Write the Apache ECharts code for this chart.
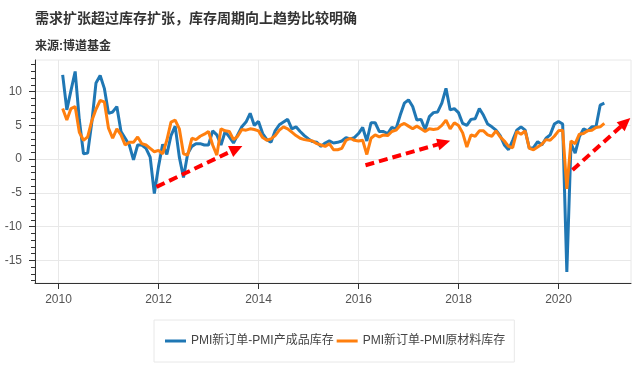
<!DOCTYPE html>
<html><head><meta charset="utf-8">
<script src="https://cdn.jsdelivr.net/npm/echarts@6/dist/echarts.min.js"></script>
<style>html,body{margin:0;padding:0;background:#fff}#c{width:643px;height:366px}</style>
</head><body><div id="c"></div>
<script>
// Monthly data, Jan 2010 - Nov 2020 (month-end)
const startYear = 2010;
const seriesNames = ['PMI新订单-PMI产成品库存', 'PMI新订单-PMI原材料库存'];
const finishedGap = [
 12.5, 7.3, 10.2, 13.0, 5.8, 0.8, 0.9, 5.5, 11.3, 12.4,
 10.5, 6.8, 7.0, 7.8, 4.1, 3.1, 2.1, -0.1, 2.1, 2.1,
 1.6, 0.3, -5.1, -1.1, 2.2, 0.7, 3.5, 4.9, 0.3, -2.7,
 0.8, 1.9, 2.3, 2.3, 2.1, 2.1, 4.2, 3.6, 2.1, 4.1,
 3.3, 2.4, 3.6, 4.8, 5.5, 6.8, 5.0, 5.6, 3.8, 2.9,
 2.5, 4.2, 5.1, 5.5, 5.9, 4.5, 4.8, 4.1, 3.5, 3.0,
 2.6, 2.5, 1.9, 2.4, 2.7, 2.4, 2.5, 2.7, 3.2, 3.0,
 3.2, 3.8, 4.7, 2.7, 5.4, 5.4, 4.1, 4.1, 3.8, 4.7,
 4.5, 6.5, 8.3, 8.8, 7.8, 5.8, 5.9, 4.4, 6.3, 6.9,
 7.0, 8.3, 10.5, 7.3, 7.5, 6.9, 5.3, 5.0, 5.9, 6.0,
 7.5, 6.5, 5.2, 4.8, 4.3, 3.5, 2.1, 1.4, 2.8, 4.3,
 4.8, 4.3, 1.6, 1.7, 2.6, 2.1, 3.1, 3.6, 5.2, 5.6,
 5.2, -16.7, 2.3, 0.9, 3.3, 4.5, 4.2, 4.8, 4.8, 8.0,
 8.3
];
const rawGap = [
 7.5, 5.8, 7.5, 7.8, 4.0, 2.8, 3.3, 5.7, 7.4, 8.7,
 8.5, 4.6, 3.1, 4.5, 3.6, 2.1, 2.5, 2.5, 3.3, 2.3,
 2.1, 1.6, 1.1, 1.3, 0.8, 2.8, 5.5, 5.8, 4.5, 0.8,
 0.6, 3.1, 2.9, 3.4, 3.7, 4.1, 2.1, 0.6, 4.5, 4.2,
 4.1, 2.9, 3.4, 4.4, 4.3, 4.5, 4.4, 4.2, 3.2, 2.8,
 3.0, 3.5, 4.3, 4.8, 4.5, 4.0, 3.5, 3.1, 2.9, 2.8,
 2.7, 2.3, 2.1, 1.9, 2.3, 1.4, 1.4, 1.6, 2.8, 3.1,
 2.8, 2.7, 2.8, 0.7, 3.1, 3.6, 3.3, 3.6, 3.5, 4.1,
 4.3, 5.0, 5.3, 4.9, 4.5, 4.9, 4.5, 4.1, 4.5, 4.4,
 4.5, 5.0, 5.8, 4.5, 5.4, 5.0, 3.9, 1.8, 3.6, 3.4,
 4.2, 4.2, 3.6, 3.4, 4.2, 3.3, 2.7, 1.9, 1.7, 4.1,
 3.7, 4.2, 1.6, 1.4, 1.8, 2.2, 2.9, 2.8, 3.4, 4.2,
 4.3, -4.4, 2.7, 2.3, 3.7, 3.8, 4.2, 4.3, 4.7, 4.8,
 5.3
];
const xTicks = [2010, 2012, 2014, 2016, 2018, 2020];
const yTicks = [-15, -10, -5, 0, 5, 10];
const yMinorTicks = [-18,-17,-16,-15,-14,-13,-12,-11,-10,-9,-8,-7,-6,-5,-4,-3,-2,-1,0,1,2,3,4,5,6,7,8,9,10,11,12,13,14];
// red dashed trend arrows: [start [year, value], end [year, value]]
const arrows = [
 [[2011.96, -4.1], [2013.56, 1.55]],
 [[2016.14, -0.9], [2017.71, 2.45]],
 [[2020.28, -1.6], [2021.34, 5.45]]
];
const titleText = '需求扩张超过库存扩张，库存周期向上趋势比较明确';
const subText = '来源:博道基金';

function toPairs(vals) {
  return vals.map((v, i) => [startYear + (i + 1) / 12, v]);
}

const FONT = '"Liberation Sans", "Noto Sans CJK SC", sans-serif';
const chart = echarts.init(document.getElementById('c'), null, {renderer: 'canvas'});
chart.setOption({
  animation: false,
  backgroundColor: '#fff',
  textStyle: {fontFamily: FONT},
  title: [
    {text: titleText, left: 35, top: 12, padding: 0,
     textStyle: {fontSize: 14, fontWeight: 'bold', color: '#333', fontFamily: FONT}},
    {text: subText, left: 35, top: 41, padding: 0,
     textStyle: {fontSize: 12, fontWeight: 'bold', color: '#333', fontFamily: FONT}}
  ],
  legend: {
    data: seriesNames,
    left: 154, top: 320,
    padding: [15, 9, 15, 11],
    itemGap: 3, itemWidth: 21, itemHeight: 3,
    icon: 'rect',
    borderColor: '#e8e8e8', borderWidth: 1,
    textStyle: {fontSize: 12, color: '#444', fontFamily: FONT}
  },
  grid: {left: 35, right: 12, top: 60, bottom: 83, show: true, borderColor: '#e8e8e8', borderWidth: 1, containLabel: false},
  xAxis: {
    type: 'value', min: 2009.53, max: 2021.45,
    axisLine: {show: true, onZero: false, lineStyle: {color: '#333', width: 1}},
    axisTick: {show: true, customValues: xTicks, length: 6, lineStyle: {color: '#333'}},
    axisLabel: {customValues: xTicks, formatter: v => String(Math.round(v)), margin: 11, fontSize: 12, color: '#555', fontFamily: FONT},
    splitLine: {show: true, lineStyle: {color: '#e8e8e8', width: 1}}
  },
  yAxis: [
    {
      type: 'value', min: -18.35, max: 14.7, position: 'left',
      axisLine: {show: true, onZero: false, lineStyle: {color: '#333', width: 1}},
      axisTick: {show: true, customValues: yTicks, length: 6, lineStyle: {color: '#333'}},
      axisLabel: {customValues: yTicks, margin: 13, fontSize: 12, color: '#555', fontFamily: FONT},
      splitLine: {show: true, lineStyle: {color: '#e8e8e8', width: 1}}
    },
    {
      type: 'value', min: -18.35, max: 14.7, position: 'left', offset: 0,
      axisLine: {show: false},
      axisTick: {show: true, customValues: yMinorTicks, length: 4, lineStyle: {color: '#333'}},
      axisLabel: {show: false},
      splitLine: {show: false}
    }
  ],
  series: [
    {name: seriesNames[0], type: 'line', data: toPairs(finishedGap), showSymbol: false, symbol: 'none',
     lineStyle: {color: '#1f77b4', width: 3}, itemStyle: {color: '#1f77b4'}, silent: true},
    {name: seriesNames[1], type: 'line', data: toPairs(rawGap), showSymbol: false, symbol: 'none',
     lineStyle: {color: '#ff7f0e', width: 3}, itemStyle: {color: '#ff7f0e'}, silent: true},
    {name: 'arrows', type: 'line', data: [], silent: true,
     markLine: {
       silent: true, animation: false,
       symbol: ['none', 'triangle'], symbolSize: [12, 13],
       label: {show: false},
       itemStyle: {color: '#ff0000'},
       lineStyle: {color: '#ff0000', width: 4, type: [9, 5]},
       emphasis: {disabled: true},
       data: arrows.map(a => [{coord: a[0]}, {coord: a[1]}])
     }}
  ]
});
</script></body></html>
